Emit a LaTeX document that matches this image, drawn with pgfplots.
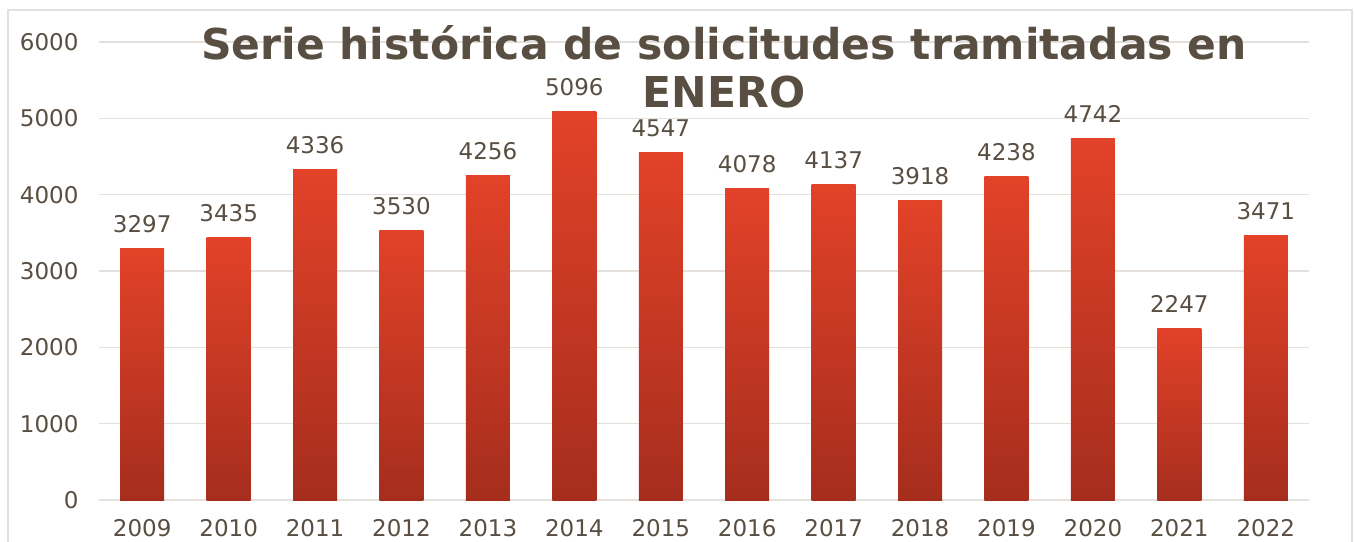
\documentclass[border=0pt]{standalone}
\usepackage{fontspec}
\setmainfont{DejaVu Sans}
\usepackage{pgfplots}
\pgfplotsset{compat=1.18}
\definecolor{txt}{RGB}{89,78,66}
\definecolor{gridc}{RGB}{229,224,220}
\definecolor{bartop}{RGB}{226,66,40}
\definecolor{barbot}{RGB}{166,45,29}

\begin{document}
\begin{tikzpicture}[x=1pt,y=1pt]
\useasboundingbox (0,0) rectangle (1355,541);
\clip (0,0) rectangle (1355,541);
\fill[white] (0,0) rectangle (1355,541);
\draw[gridc, line width=1.5pt] (8,-10) -- (8,531) -- (1352,531) -- (1352,-10);
\begin{axis}[
  at={(99pt,41pt)}, anchor=south west,
  scale only axis, width=1210pt, height=458pt,
  xmin=-0.5, xmax=13.5, ymin=0, ymax=6000,
  ybar, bar width=44pt,
  xtick={0,...,13},
  xticklabels={2009,2010,2011,2012,2013,2014,2015,2016,2017,2018,2019,2020,2021,2022},
  ytick={0,1000,...,6000},
  scaled y ticks=false,
  /pgf/number format/set thousands separator={},
  /pgf/number format/assume math mode=true,
  axis line style={draw=none},
  tick style={draw=none},
  ymajorgrids, grid style={gridc, line width=1.5pt},
  tick label style={font=\fontsize{23}{28}\selectfont, text=txt},
  yticklabel style={xshift=-17pt},
  xticklabel style={yshift=-12pt},
  every axis plot/.append style={draw=none, top color=bartop, bottom color=barbot, bar shift=0pt},
  nodes near coords,
  every node near coord/.append style={font=\fontsize{23}{28}\selectfont, text=txt, anchor=base, yshift=16pt},
]
% one plot per bar so each bar gets its own gradient
\addplot coordinates {(0,3297)};
\addplot coordinates {(1,3435)};
\addplot coordinates {(2,4336)};
\addplot coordinates {(3,3530)};
\addplot coordinates {(4,4256)};
\addplot coordinates {(5,5096)};
\addplot coordinates {(6,4547)};
\addplot coordinates {(7,4078)};
\addplot coordinates {(8,4137)};
\addplot coordinates {(9,3918)};
\addplot coordinates {(10,4238)};
\addplot coordinates {(11,4742)};
\addplot coordinates {(12,2247)};
\addplot coordinates {(13,3471)};
\end{axis}
\node[anchor=base, text=txt, font=\fontsize{42.5}{48}\selectfont\bfseries] at (724,481) {Serie histórica de solicitudes tramitadas en};
\node[anchor=base, text=txt, font=\fontsize{42.5}{48}\selectfont\bfseries] at (724,433) {ENERO};
\end{tikzpicture}
\end{document}
